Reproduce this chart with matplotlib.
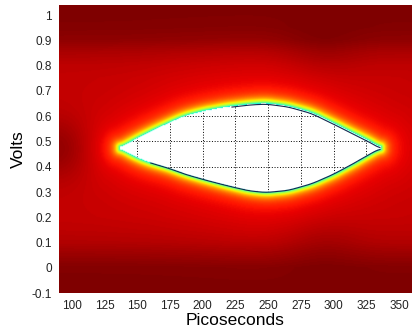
import numpy as np
import matplotlib
matplotlib.use('Agg')
import matplotlib.pyplot as plt

# eye opening (picoseconds, volts)
eye_t = [136.7, 148, 158, 174, 186, 200, 217, 235, 248, 265, 283, 299, 314, 327, 335.5]
eye_upper = [0.472, 0.505, 0.532, 0.571, 0.598, 0.617, 0.633, 0.644, 0.648,
             0.637, 0.611, 0.571, 0.532, 0.499, 0.472]
eye_lower = [0.472, 0.439, 0.418, 0.394, 0.371, 0.35, 0.327, 0.305, 0.298,
             0.306, 0.332, 0.368, 0.409, 0.448, 0.472]

# background hit density vs volts (jet scale, 1 = darkest red)
bg_volts = [-0.1, 0.0, 0.05, 0.1, 0.15, 0.2, 0.5, 0.75, 0.8, 0.85, 0.9, 0.95, 1.04]
bg_level = [1.0, 0.995, 0.975, 0.955, 0.945, 0.94, 0.94, 0.94, 0.945, 0.96, 0.985, 0.995, 1.0]

# darker patches (crossing of the previous eye etc.)
spot_t = [92, 290, 290]
spot_v = [0.47, 0.84, 0.12]
spot_amp = [0.05, 0.02, 0.02]

# where the dark outline is visible on the eye edge
line_upper_from = 222
line_lower_from = 160

xticks = [100, 125, 150, 175, 200, 225, 250, 275, 300, 325, 350]
yticks = [-0.1, 0, 0.1, 0.2, 0.3, 0.4, 0.5, 0.6, 0.7, 0.8, 0.9, 1]
ylabels = ['-0.1', '0', '0.1', '0.2', '0.3', '0.4', '0.5', '0.6', '0.7', '0.8', '0.9', '1']

xmin, xmax, ymin, ymax = 90, 360, -0.1, 1.04
nx, ny = 352, 288
sx = nx / (xmax - xmin)
sy = ny / (ymax - ymin)


def smooth(y, k=31):
    # soften the corners of the piecewise-linear outline, keep the tips fixed
    pad = np.concatenate([np.full(k // 2, y[0]), y, np.full(k // 2, y[-1])])
    return np.convolve(pad, np.ones(k) / k, mode='valid')


t = np.linspace(xmin, xmax, nx)
v = np.linspace(ymin, ymax, ny)
T, V = np.meshgrid(t, v)

val = np.interp(V, bg_volts, bg_level)
for st, sv, a in zip(spot_t, spot_v, spot_amp):
    val += a * np.exp(-(((T - st) * sx / 40) ** 2 + ((V - sv) * sy / 30) ** 2))

tb = np.linspace(eye_t[0], eye_t[-1], 600)
ub = smooth(np.interp(tb, eye_t, eye_upper))
lb = smooth(np.interp(tb, eye_t, eye_lower))
bx = np.concatenate([tb, tb])
by = np.concatenate([ub, lb])

X = (T - xmin) * sx
Y = (V - ymin) * sy
d2 = np.full(T.shape, np.inf)
for px, py in zip((bx - xmin) * sx, (by - ymin) * sy):
    d2 = np.minimum(d2, (X - px) ** 2 + (Y - py) ** 2)
d = np.sqrt(d2)

val = val + (0.885 - val) * np.exp(-(d / 34) ** 1.5)
val = val - 0.55 * np.exp(-d / 4.5)
val = np.clip(val, 0, 1)

inside = ((T > eye_t[0]) & (T < eye_t[-1])
          & (V < np.interp(T, tb, ub)) & (V > np.interp(T, tb, lb)))
img = np.ma.masked_where(inside, val)

cmap = plt.get_cmap('jet').copy()
cmap.set_bad((1, 1, 1, 0))

fig = plt.figure(figsize=(4.12, 3.35), dpi=100)
ax = fig.add_axes([0.143, 0.125, 0.857, 0.86])
ax.imshow(img, extent=[xmin, xmax, ymin, ymax], origin='lower', aspect='auto',
          cmap=cmap, vmin=0, vmax=1, interpolation='bilinear', zorder=1)

m = tb >= line_upper_from
ax.plot(tb[m], ub[m], color='#102a50', lw=0.8, zorder=2)
m = tb >= line_lower_from
ax.plot(tb[m], lb[m], color='#102a50', lw=0.8, zorder=2)

ax.set_axisbelow(True)
ax.grid(True, color='k', linestyle=(0, (1, 1.8)), linewidth=0.7)
ax.set_xlim(xmin, xmax)
ax.set_ylim(ymin, ymax)
ax.set_xticks(xticks)
ax.set_yticks(yticks)
ax.set_yticklabels(ylabels)
ax.tick_params(length=0, labelsize=8.5, labelcolor='#222222', pad=5)
for lab in ax.get_xticklabels() + ax.get_yticklabels():
    lab.set_family('Liberation Sans')
for s in ax.spines.values():
    s.set_visible(False)
ax.set_xlabel('Picoseconds', fontsize=12.5, family='Liberation Sans', labelpad=1)
ax.set_ylabel('Volts', fontsize=12.5, family='Liberation Sans', labelpad=4)

fig.savefig('out.png', dpi=100)
